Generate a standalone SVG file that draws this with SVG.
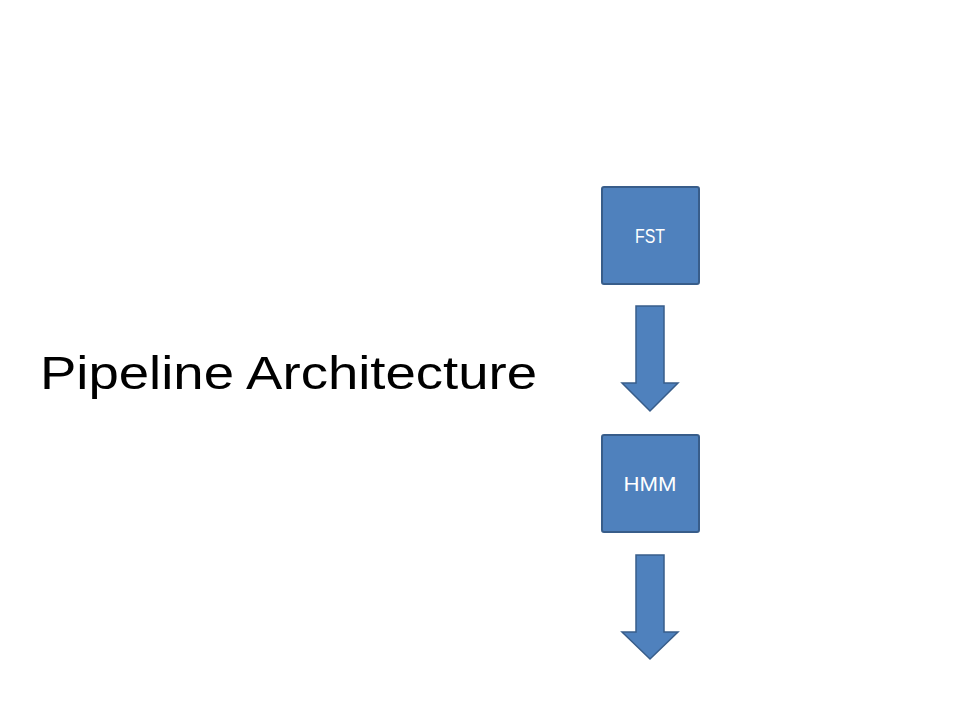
<svg xmlns="http://www.w3.org/2000/svg" width="960" height="720" viewBox="0 0 960 720">
<style>
.box{fill:#4F81BD;stroke:#385D8A;stroke-width:2}
.arr{fill:#4F81BD;stroke:#385D8A;stroke-width:1.5;stroke-linejoin:miter}
.lbl{font-family:"Liberation Sans",Arial,sans-serif;font-size:20px;fill:#FFFFFF;text-anchor:middle}
.title{font-family:"Liberation Sans",Arial,sans-serif;font-size:46px;fill:#000000}
</style>
<rect width="960" height="720" fill="#FFFFFF"/>
<text class="title" x="40" y="389" textLength="497" lengthAdjust="spacingAndGlyphs">Pipeline Architecture</text>
<g id="fst">
<rect class="box" x="602" y="187" width="97" height="97" rx="2"/>
<text class="lbl" x="650" y="243" textLength="30" lengthAdjust="spacingAndGlyphs">FST</text>
</g>
<g id="hmm">
<rect class="box" x="602" y="435" width="97" height="97" rx="2"/>
<text class="lbl" x="650" y="491" textLength="53" lengthAdjust="spacingAndGlyphs">HMM</text>
</g>
<g id="connectors">
<path class="arr" d="M636,306 H664 V383 H678 L650,411 L622,383 H636 Z"/>
<path class="arr" d="M636,555 H664 V632 H678 L650,659 L622,632 H636 Z"/>
</g>
</svg>
